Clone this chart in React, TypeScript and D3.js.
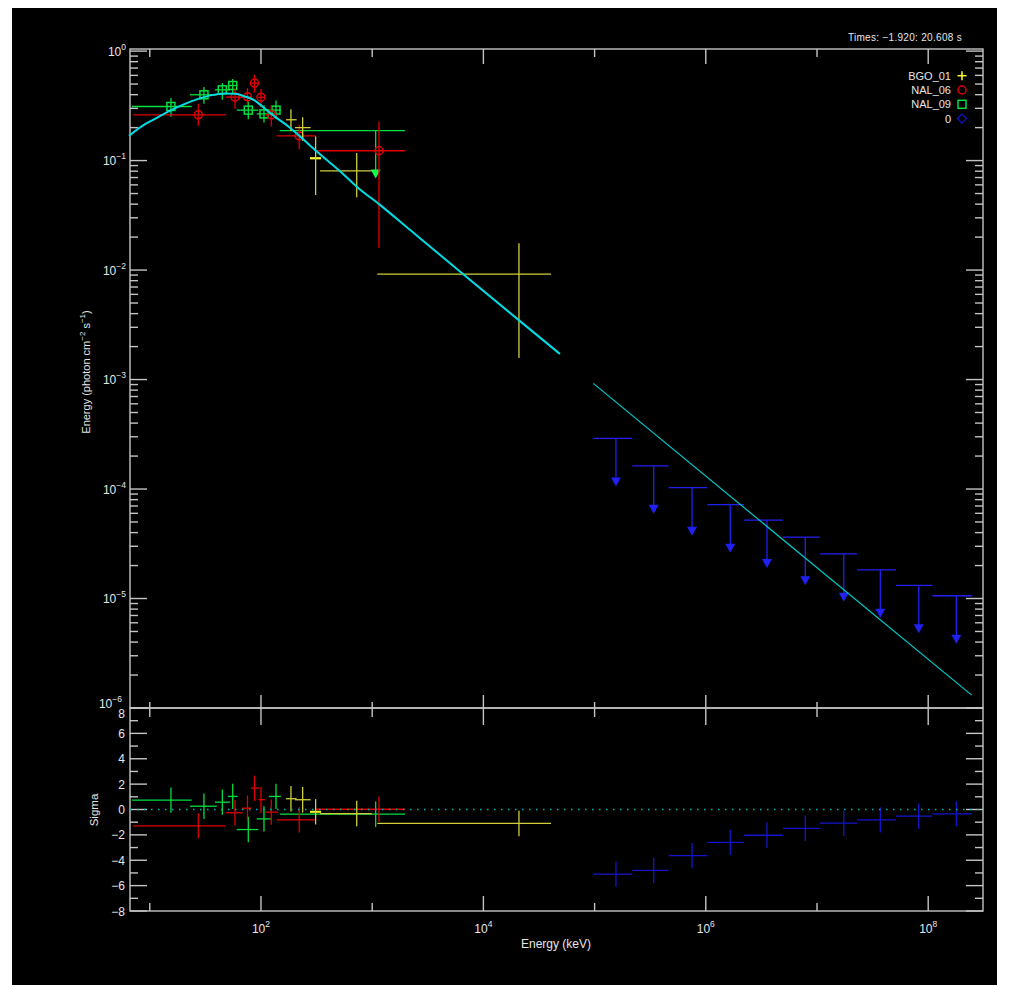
import React from "react";
import * as d3 from "d3";

// ---------------- DATA ----------------
// BGO_01 (yellow)
const BGO_LO = [168, 202, 276, 340, 1112];
const BGO_HI = [209, 280, 347, 990, 40550];
const BGO_E = [186, 237, 310, 726, 20890];
const BGO_F = [0.236, 0.2, 0.105, 0.0805, 0.00917];
const BGO_UP = [0.295, 0.249, 0.166, 0.117, 0.0176];
const BGO_DN = [0.186, 0.152, 0.0485, 0.0462, 0.00157];
const BGO_UL = [false, false, false, false, false];
const BGO_SIG = [0.85, 0.77, -0.18, -0.32, -1.1];

// NAL_06 (red)
const N6_LO = [7.1, 48.2, 67.0, 81.3, 94.6, 108.7, 138.4, 312];
const N6_HI = [48.4, 68.5, 82.4, 96.5, 108.7, 141.3, 312, 1972];
const N6_E = [27.3, 58.4, 75.6, 87.4, 100, 123.7, 220.8, 1151];
const N6_F = [0.262, 0.38, 0.382, 0.51, 0.379, 0.262, 0.168, 0.123];
const N6_UP = [0.33, 0.45, 0.459, 0.607, 0.452, 0.32, 0.212, 0.227];
const N6_DN = [0.208, 0.297, 0.323, 0.419, 0.31, 0.205, 0.127, 0.016];
const N6_UL = [false, false, false, false, false, false, false, false];
const N6_SIG = [-1.29, -0.26, 0.1, 1.68, 0.77, -0.21, -0.82, 0.02];

// NAL_09 (green)
const N9_LO = [6.9, 23.0, 38.6, 50.2, 60.5, 91.5, 118, 148];
const N9_HI = [23.8, 40.0, 52.6, 61.7, 94.6, 124.8, 151, 1972];
const N9_E = [15.5, 30.7, 44.9, 55.7, 76.9, 106.4, 136.5, 1075];
const N9_F = [0.312, 0.399, 0.443, 0.485, 0.289, 0.267, 0.289, 0.188];
const N9_UP = [0.372, 0.469, 0.511, 0.555, 0.346, 0.32, 0.353, 0.188];
const N9_DN = [0.252, 0.33, 0.359, 0.413, 0.239, 0.223, 0.238, 0.188];
const N9_UL = [false, false, false, false, false, false, false, true];
const N9_SIG = [0.74, 0.26, 0.58, 1.03, -1.58, -0.74, 1.03, -0.37];

// "0" (LAT, blue) - upper limits
const LAT_LO = [97300, 218300, 463600, 1.03e6, 2.2e6, 4.94e6, 1.06e7, 2.3e7, 5.13e7, 1.09e8];
const LAT_HI = [218300, 463600, 1.03e6, 2.2e6, 4.94e6, 1.06e7, 2.3e7, 5.13e7, 1.09e8, 2.48e8];
const LAT_E = [1.556e5, 3.4e5, 7.52e5, 1.66e6, 3.55e6, 7.85e6, 1.74e7, 3.71e7, 8.22e7, 1.79e8];
const LAT_F = [2.9e-4, 1.63e-4, 1.03e-4, 7.2e-5, 5.2e-5, 3.63e-5, 2.56e-5, 1.83e-5, 1.32e-5, 1.06e-5];
const LAT_UL = [true, true, true, true, true, true, true, true, true, true];
const LAT_SIG = [-5.09, -4.8, -3.64, -2.59, -2.03, -1.48, -1.08, -0.82, -0.53, -0.34];

// Model curve (two pieces)
const MODEL_E1 = [6.5, 9.06, 11.9, 15.7, 20.7, 27.3, 36.1, 47.4, 58.3, 71.8, 88.3, 101.4, 116.4, 143.2, 176.2, 216.3, 306, 403, 532, 726, 1175, 2188, 3311, 6592, 19910, 48870];
const MODEL_F1 = [0.168, 0.215, 0.249, 0.29, 0.33, 0.366, 0.396, 0.409, 0.407, 0.385, 0.353, 0.316, 0.281, 0.239, 0.205, 0.172, 0.125, 0.0988, 0.0776, 0.0578, 0.0394, 0.0233, 0.0164, 0.00916, 0.00362, 0.00171];
const MODEL_E2 = [97270, 2.46e8];
const MODEL_F2 = [9.23e-4, 1.31e-6];

const X_MAJOR_EXP = [2, 4, 6, 8];
const X_MINOR_EXP = [1, 3, 5, 7];
const Y_EXP = [0, -1, -2, -3, -4, -5, -6];
const SIG_MAJOR = [-8, -6, -4, -2, 0, 2, 4, 6, 8];
const SIG_MINOR = [-7, -5, -3, -1, 1, 3, 5, 7];

const LEGEND = ["BGO_01", "NAL_06", "NAL_09", "0"];
const TITLE = "Times: \u22121.920: 20.608 s";

// ---------------- STYLE ----------------
const FONT = "'Liberation Sans', Arial, sans-serif";
const AX = "#c4c4c4";
const TXT = "#e6e6e6";
const YEL = "#cfcf3c";
const YEL_B = "#ffff30";
const RED = "#e00000";
const GRN = "#00e040";
const BLU = "#2020f0";
const BLU_R = "#1414d0";
const CYA = "#00dce4";

const L = 130, R = 983, T = 49, MID = 708, B = 911;

type Pt = { lo: number; hi: number; e: number; f: number; up: number; dn: number; ul: boolean; sig: number };
function build(lo: number[], hi: number[], e: number[], f: number[], up: number[], dn: number[], ul: boolean[], sig: number[]): Pt[] {
  return lo.map((_, i) => ({ lo: lo[i], hi: hi[i], e: e[i], f: f[i], up: up[i], dn: dn[i], ul: ul[i], sig: sig[i] }));
}

const bgo = build(BGO_LO, BGO_HI, BGO_E, BGO_F, BGO_UP, BGO_DN, BGO_UL, BGO_SIG);
const n6 = build(N6_LO, N6_HI, N6_E, N6_F, N6_UP, N6_DN, N6_UL, N6_SIG);
const n9 = build(N9_LO, N9_HI, N9_E, N9_F, N9_UP, N9_DN, N9_UL, N9_SIG);
const lat = build(LAT_LO, LAT_HI, LAT_E, LAT_F, LAT_F, LAT_F, LAT_UL, LAT_SIG);

const x = d3.scaleLog().domain([6.64, 3.11e8]).range([L, R]);
const y = d3.scaleLog().domain([1e-6, 1.045]).range([MID, T]);
const ys = d3.scaleLinear().domain([-8, 8]).range([B, MID]);

const expStr = (k: number) => (k < 0 ? "\u2212" + -k : String(k));

function Symbol({ kind, cx, cy, color }: { kind: string; cx: number; cy: number; color: string }) {
  if (kind === "circle") return <circle cx={cx} cy={cy} r={4} fill="none" stroke={color} strokeWidth={1.5} />;
  if (kind === "square") return <rect x={cx - 4} y={cy - 4} width={8} height={8} fill="none" stroke={color} strokeWidth={1.5} />;
  if (kind === "diamond") return <path d={`M${cx},${cy - 4.5}L${cx + 4.5},${cy}L${cx},${cy + 4.5}L${cx - 4.5},${cy}Z`} fill="none" stroke={color} strokeWidth={1.3} />;
  return (
    <g stroke={color} strokeWidth={1.5}>
      <line x1={cx - 4.5} x2={cx + 4.5} y1={cy} y2={cy} />
      <line x1={cx} x2={cx} y1={cy - 4.5} y2={cy + 4.5} />
    </g>
  );
}

function Points({ pts, color, sym, arrowColor, hi }: { pts: Pt[]; color: string; sym: string; arrowColor?: string; hi?: number[] }) {
  return (
    <g>
      {pts.map((p, i) => {
        const cx = x(p.e);
        const cy = y(p.f);
        const bright = hi && hi.includes(i);
        const c = bright ? YEL_B : color;
        return (
          <g key={i}>
            <line x1={x(p.lo)} x2={x(p.hi)} y1={cy} y2={cy} stroke={c} strokeWidth={bright ? 2.2 : 1.3} />
            {p.ul ? (
              <g>
                <line x1={cx} x2={cx} y1={cy} y2={cy + 40} stroke={color} strokeWidth={1.3} />
                <path d={`M${cx - 5},${cy + 39}L${cx + 5},${cy + 39}L${cx},${cy + 48}Z`} fill={arrowColor || color} />
              </g>
            ) : (
              <line x1={cx} x2={cx} y1={y(p.up)} y2={y(p.dn)} stroke={color} strokeWidth={1.3} />
            )}
            {!p.ul && sym !== "plus" && <Symbol kind={sym} cx={cx} cy={cy} color={color} />}
          </g>
        );
      })}
    </g>
  );
}

function Resid({ pts, color, hi }: { pts: Pt[]; color: string; hi?: number[] }) {
  return (
    <g>
      {pts.map((p, i) => {
        const cx = x(p.e);
        const cy = ys(p.sig);
        const bright = hi && hi.includes(i);
        const c = bright ? YEL_B : color;
        return (
          <g key={i}>
            <line x1={x(p.lo)} x2={x(p.hi)} y1={cy} y2={cy} stroke={c} strokeWidth={bright ? 2 : 1.3} />
            <line x1={cx} x2={cx} y1={ys(p.sig + 1)} y2={ys(p.sig - 1)} stroke={color} strokeWidth={1.3} />
          </g>
        );
      })}
    </g>
  );
}

export default function App() {
  const line = d3
    .line<[number, number]>()
    .x((d) => x(d[0]))
    .y((d) => y(d[1]))
    .curve(d3.curveMonotoneX);
  const m1 = line(MODEL_E1.map((e, i) => [e, MODEL_F1[i]] as [number, number])) || "";
  const m2 = line(MODEL_E2.map((e, i) => [e, MODEL_F2[i]] as [number, number])) || "";

  const yMinor: number[] = [];
  Y_EXP.slice(1).forEach((k) => {
    for (let m = 2; m <= 9; m++) yMinor.push(m * Math.pow(10, k));
  });

  const xTicks = [...X_MAJOR_EXP.map((k) => ({ k, major: true })), ...X_MINOR_EXP.map((k) => ({ k, major: false }))];
  const lastExp = Y_EXP[Y_EXP.length - 1];
  const topSig = SIG_MAJOR[SIG_MAJOR.length - 1];

  return (
    <svg width={1009} height={985} style={{ position: "absolute", left: 0, top: 0 }} fontFamily={FONT}>
      <rect x={0} y={0} width={1009} height={985} fill="#ffffff" />
      <rect x={12} y={8} width={985} height={977} fill="#000000" />

      {/* title */}
      <text x={962} y={41} textAnchor="end" fill={TXT} fontSize={10} letterSpacing={0.3}>
        {TITLE}
      </text>

      {/* frames */}
      <g stroke={AX} strokeWidth={1.4} fill="none">
        <rect x={L} y={T} width={R - L} height={MID - T} />
        <rect x={L} y={MID} width={R - L} height={B - MID} />
      </g>

      {/* x ticks */}
      <g stroke={AX} strokeWidth={1.4}>
        {xTicks.map(({ k, major }) => {
          const px = x(Math.pow(10, k));
          return (
            <g key={k}>
              <line x1={px} x2={px} y1={T} y2={T + (major ? 15 : 8)} />
              <line x1={px} x2={px} y1={MID} y2={MID - (major ? 13 : 6)} />
              <line x1={px} x2={px} y1={MID} y2={MID + (major ? 17 : 9)} />
              <line x1={px} x2={px} y1={B} y2={B - (major ? 15 : 8)} />
            </g>
          );
        })}
        {/* main y ticks */}
        {Y_EXP.map((k) => {
          const py = y(Math.pow(10, k));
          return (
            <g key={k}>
              <line x1={L} x2={L + 17} y1={py} y2={py} />
              <line x1={R} x2={R - 17} y1={py} y2={py} />
            </g>
          );
        })}
        {yMinor.map((v, i) => {
          const py = y(v);
          return (
            <g key={i}>
              <line x1={L} x2={L + 8} y1={py} y2={py} />
              <line x1={R} x2={R - 8} y1={py} y2={py} />
            </g>
          );
        })}
        {/* sigma ticks */}
        {SIG_MAJOR.map((v) => (
          <g key={v}>
            <line x1={L} x2={L + 17} y1={ys(v)} y2={ys(v)} />
            <line x1={R} x2={R - 17} y1={ys(v)} y2={ys(v)} />
          </g>
        ))}
        {SIG_MINOR.map((v) => (
          <g key={v}>
            <line x1={L} x2={L + 8} y1={ys(v)} y2={ys(v)} />
            <line x1={R} x2={R - 8} y1={ys(v)} y2={ys(v)} />
          </g>
        ))}
      </g>

      {/* tick labels */}
      <g fill={TXT} fontSize={12}>
        {Y_EXP.map((k) => (
          <text key={k} x={k === lastExp ? 122 : 126} y={y(Math.pow(10, k)) + (k === lastExp ? -0.5 : 4.5)} textAnchor="end">
            10<tspan dy={-6} fontSize={8.5}>{expStr(k)}</tspan>
          </text>
        ))}
        {SIG_MAJOR.map((v) => (
          <text key={v} x={125} y={ys(v) + (v === topSig ? 9.5 : 4.5)} textAnchor="end">
            {v < 0 ? "\u2212" + -v : String(v)}
          </text>
        ))}
        {X_MAJOR_EXP.map((k) => (
          <text key={k} x={x(Math.pow(10, k))} y={933} textAnchor="middle">
            10<tspan dy={-6} fontSize={8.5}>{expStr(k)}</tspan>
          </text>
        ))}
      </g>

      {/* axis titles */}
      <text x={556} y={948} textAnchor="middle" fill={TXT} fontSize={12}>
        Energy (keV)
      </text>
      <text transform="translate(90,372) rotate(-90)" textAnchor="middle" fill={TXT} fontSize={11}>
        Energy (photon cm<tspan dy={-5} fontSize={8}>{"\u22122"}</tspan>
        <tspan dy={5}> s</tspan>
        <tspan dy={-5} fontSize={8}>{"\u22121"}</tspan>
        <tspan dy={5}>)</tspan>
      </text>
      <text transform="translate(98,810) rotate(-90)" textAnchor="middle" fill={TXT} fontSize={11.5}>
        Sigma
      </text>

      {/* legend */}
      {LEGEND.map((name, i) => {
        const cy = 75.7 + i * 14.3;
        const kinds = ["plus", "circle", "square", "diamond"];
        const cols = [YEL_B, RED, GRN, BLU_R];
        return (
          <g key={name}>
            <text x={951} y={cy + 4} textAnchor="end" fill={TXT} fontSize={11}>
              {name}
            </text>
            <Symbol kind={kinds[i]} cx={962} cy={cy} color={cols[i]} />
          </g>
        );
      })}

      {/* main panel data */}
      <Points pts={n9} color={GRN} sym="square" arrowColor="#10ff50" />
      <Points pts={n6} color={RED} sym="circle" />
      <Points pts={bgo} color={YEL} sym="plus" hi={[2]} />
      <Points pts={lat} color={BLU} sym="diamond" />

      {/* model */}
      <path d={m1} fill="none" stroke={CYA} strokeWidth={2} />
      <path d={m2} fill="none" stroke="#00c8c8" strokeWidth={1.2} />

      {/* residual panel */}
      <Resid pts={n9} color={GRN} />
      <Resid pts={n6} color={RED} />
      <Resid pts={bgo} color={YEL} hi={[2]} />
      <Resid pts={lat} color={BLU_R} />
      <line x1={L} x2={R} y1={ys(0)} y2={ys(0)} stroke="#00b4b4" strokeWidth={1.5} strokeDasharray="1.5 5.5" />
    </svg>
  );
}
